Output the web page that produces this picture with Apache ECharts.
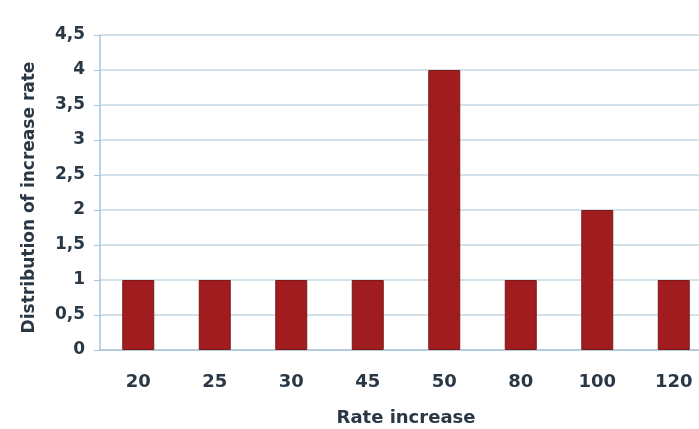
<!DOCTYPE html>
<html><head><meta charset="utf-8">
<script src="https://cdn.jsdelivr.net/npm/echarts@6/dist/echarts.min.js"></script>
<style>html,body{margin:0;padding:0;background:#fff}#c{width:699px;height:429px}</style>
</head><body><div id="c"></div>
<script>
const categories = ['20','25','30','45','50','80','100','120'];
const values = [1,1,1,1,4,1,2,1];
const chart = echarts.init(document.getElementById('c'));
const txt = '#2a3846';
const ff = 'DejaVu Sans';
chart.setOption({
  animation:false,
  backgroundColor:'#fff',
  grid:{left:100,width:612,top:35,bottom:79,containLabel:false,outerBoundsMode:'none'},
  xAxis:{type:'category',data:categories,
    name:'Rate increase',nameLocation:'middle',nameGap:59,
    nameTextStyle:{color:txt,fontSize:18,fontWeight:'bold',fontFamily:ff},
    axisLine:{lineStyle:{color:'#a9c3d8',width:1.5}},
    axisTick:{show:false},
    axisLabel:{color:txt,fontSize:18,fontWeight:'bold',fontFamily:ff,margin:23}},
  yAxis:{type:'value',min:0,max:4.5,interval:0.5,
    name:'Distribution of increase rate',nameLocation:'middle',nameGap:62,nameRotate:90,
    nameTextStyle:{color:txt,fontSize:17,fontWeight:'bold',fontFamily:ff,padding:[0,10,0,0]},
    axisLine:{show:true,lineStyle:{color:'#a9c3d8',width:1.5}},
    axisTick:{show:true,length:6,lineStyle:{color:'#a9c3d8'}},
    splitLine:{lineStyle:{color:'#c4d7e5',width:1.5}},
    axisLabel:{color:txt,fontSize:17,fontWeight:'bold',fontFamily:ff,margin:15,
      formatter:v=>String(v).replace('.',',')}},
  series:[{type:'bar',data:values,barWidth:32,
    itemStyle:{color:'#a11c1f',borderColor:'#7a1a18',borderWidth:1}}]
});
</script></body></html>
